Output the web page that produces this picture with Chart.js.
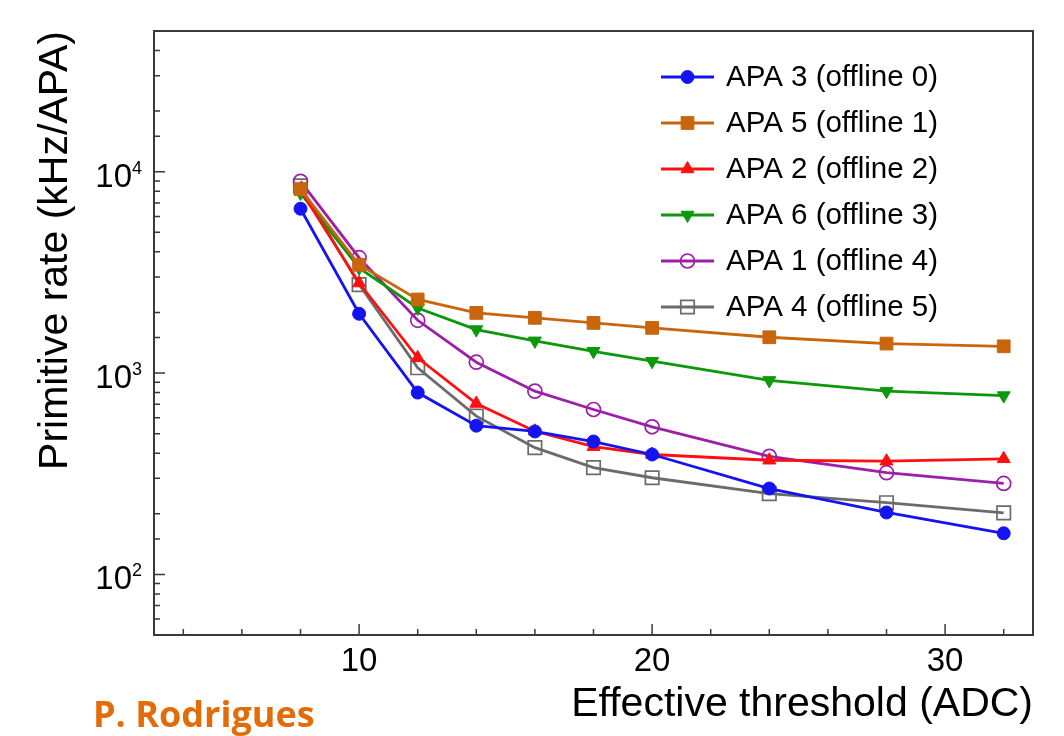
<!DOCTYPE html>
<html>
<head>
<meta charset="utf-8">
<script src="https://cdn.jsdelivr.net/npm/chart.js@4.4.1/dist/chart.umd.min.js"></script>
<style>
    html, body { margin: 0; padding: 0; background: #fff; }
    #wrap { position: relative; width: 1064px; height: 736px; overflow: hidden; }
    #credit { position: absolute; left: 93px; top: 696px; font: bold 36px/36px 'Open Sans', sans-serif; color: #e36c0a; white-space: nowrap; }
</style>
</head>
<body>
<div id="wrap">
    <canvas id="myChart" width="1064" height="736"></canvas>
    <div id="credit">P. Rodrigues</div>
</div>
<script>
const thresholds = [8, 10, 12, 14, 16, 18, 20, 24, 28, 32];

const apa3 = [6550, 1970, 800, 548, 513, 457, 394, 267, 203, 160];
const apa5 = [8200, 3450, 2320, 1990, 1880, 1775, 1676, 1506, 1401, 1358];
const apa2 = [8100, 2800, 1190, 706, 514, 431, 394, 369, 365, 375];
const apa6 = [7830, 3330, 2105, 1644, 1445, 1283, 1145, 919, 813, 773];
const apa1 = [8950, 3740, 1828, 1132, 813, 659, 541, 386, 320, 283];
const apa4 = [8500, 2750, 1062, 611, 426, 339, 302, 252, 227, 202];

const xTickValues = [4, 6, 8, 10, 12, 14, 16, 18, 20, 22, 24, 26, 28, 30, 32];
const xTickLabels = [10, 20, 30];
const yTickLabels = [100, 1000, 10000];

const family = "'Liberation Sans', Arial, Helvetica, sans-serif";

function pts(arr) {
    return thresholds.map((t, i) => ({ x: t, y: arr[i] }));
}

function series(label, arr, color, style, radius, filled, rotation) {
    return {
        label: label,
        data: pts(arr),
        borderColor: color,
        backgroundColor: color,
        borderWidth: 2.8,
        tension: 0,
        pointStyle: style,
        pointRadius: radius,
        pointRotation: rotation || 0,
        pointBackgroundColor: filled ? color : 'rgba(255,255,255,0)',
        pointBorderColor: color,
        pointBorderWidth: filled ? 1 : 1.7
    };
}

// frame, inward ticks and 10^n labels
const frameAndTicks = {
    id: 'frameAndTicks',
    afterDraw(chart) {
        const { ctx, chartArea: a, scales: { x, y } } = chart;
        ctx.save();
        ctx.strokeStyle = '#3a3a3a';
        ctx.lineWidth = 2;
        ctx.strokeRect(a.left, a.top, a.right - a.left, a.bottom - a.top);
        ctx.lineWidth = 1.5;
        ctx.beginPath();
        x.ticks.forEach(t => {
            const px = x.getPixelForValue(t.value);
            const len = xTickLabels.includes(t.value) ? 11 : 6;
            ctx.moveTo(px, a.bottom);
            ctx.lineTo(px, a.bottom - len);
        });
        y.ticks.forEach(t => {
            const py = y.getPixelForValue(t.value);
            const len = yTickLabels.includes(t.value) ? 11 : 6;
            ctx.moveTo(a.left, py);
            ctx.lineTo(a.left + len, py);
        });
        ctx.stroke();

        ctx.fillStyle = '#000';
        ctx.textAlign = 'right';
        ctx.textBaseline = 'alphabetic';
        yTickLabels.forEach(v => {
            const py = y.getPixelForValue(v);
            const exp = String(Math.round(Math.log10(v)));
            ctx.font = '18px ' + family;
            const ew = ctx.measureText(exp).width;
            ctx.fillText(exp, a.left - 12, py + 2);
            ctx.font = '33px ' + family;
            ctx.fillText('10', a.left - 12 - ew, py + 15);
        });
        ctx.restore();
    }
};

// legend with line + marker inside the plot
const lineLegend = {
    id: 'lineLegend',
    afterDraw(chart) {
        const { ctx, chartArea: a } = chart;
        ctx.save();
        chart.data.datasets.forEach((ds, i) => {
            const yy = a.top + 46 + i * 46;
            const x0 = a.right - 372, x1 = a.right - 319;
            ctx.strokeStyle = ds.borderColor;
            ctx.lineWidth = ds.borderWidth;
            ctx.beginPath();
            ctx.moveTo(x0, yy);
            ctx.lineTo(x1, yy);
            ctx.stroke();
            ctx.fillStyle = ds.pointBackgroundColor;
            ctx.lineWidth = ds.pointBorderWidth;
            Chart.helpers.drawPoint(ctx, {
                pointStyle: ds.pointStyle,
                rotation: ds.pointRotation,
                radius: ds.pointRadius,
                borderWidth: ds.pointBorderWidth
            }, (x0 + x1) / 2, yy);
            ctx.fillStyle = '#000';
            ctx.font = '29.5px ' + family;
            ctx.textAlign = 'left';
            ctx.textBaseline = 'middle';
            ctx.fillText(ds.label, a.right - 307, yy + 1);
        });
        ctx.restore();
    }
};

const ctx = document.getElementById('myChart');

new Chart(ctx, {
    type: 'line',
    data: {
        datasets: [
            series('APA 3 (offline 0)', apa3, '#1414f0', 'circle', 6.5, true),
            series('APA 5 (offline 1)', apa5, '#c9650d', 'rect', 9, true),
            series('APA 2 (offline 2)', apa2, '#ff1010', 'triangle', 7.5, true),
            series('APA 6 (offline 3)', apa6, '#0b990b', 'triangle', 7.5, true, 180),
            series('APA 1 (offline 4)', apa1, '#9b1fa8', 'circle', 7, false),
            series('APA 4 (offline 5)', apa4, '#6b6b6b', 'rect', 9.5, false)
        ]
    },
    options: {
        responsive: false,
        animation: false,
        layout: { padding: { top: 31, right: 31, left: 0, bottom: 0 } },
        plugins: {
            legend: { display: false },
            tooltip: { enabled: false }
        },
        scales: {
            x: {
                type: 'linear',
                min: 3,
                max: 33,
                afterBuildTicks: s => { s.ticks = xTickValues.map(v => ({ value: v })); },
                afterFit: s => { s.height = 101; },
                grid: { display: false, drawTicks: false },
                border: { display: false },
                ticks: {
                    autoSkip: false,
                    maxRotation: 0,
                    padding: 7,
                    color: '#000',
                    font: { size: 33, family: family },
                    callback: v => xTickLabels.includes(v) ? String(v) : ''
                },
                title: {
                    display: true,
                    text: 'Effective threshold (ADC)',
                    align: 'end',
                    color: '#000',
                    font: { size: 41, family: family },
                    padding: { top: 0, bottom: 7 }
                }
            },
            y: {
                type: 'logarithmic',
                min: 50,
                max: 50000,
                afterFit: s => { s.width = 154; },
                grid: { display: false, drawTicks: false },
                border: { display: false },
                ticks: { display: false, autoSkip: false },
                title: {
                    display: true,
                    text: 'Primitive rate (kHz/APA)',
                    align: 'end',
                    color: '#000',
                    font: { size: 41, family: family },
                    padding: { top: 31, bottom: 0 }
                }
            }
        }
    },
    plugins: [frameAndTicks, lineLegend]
});
</script>
</body>
</html>
